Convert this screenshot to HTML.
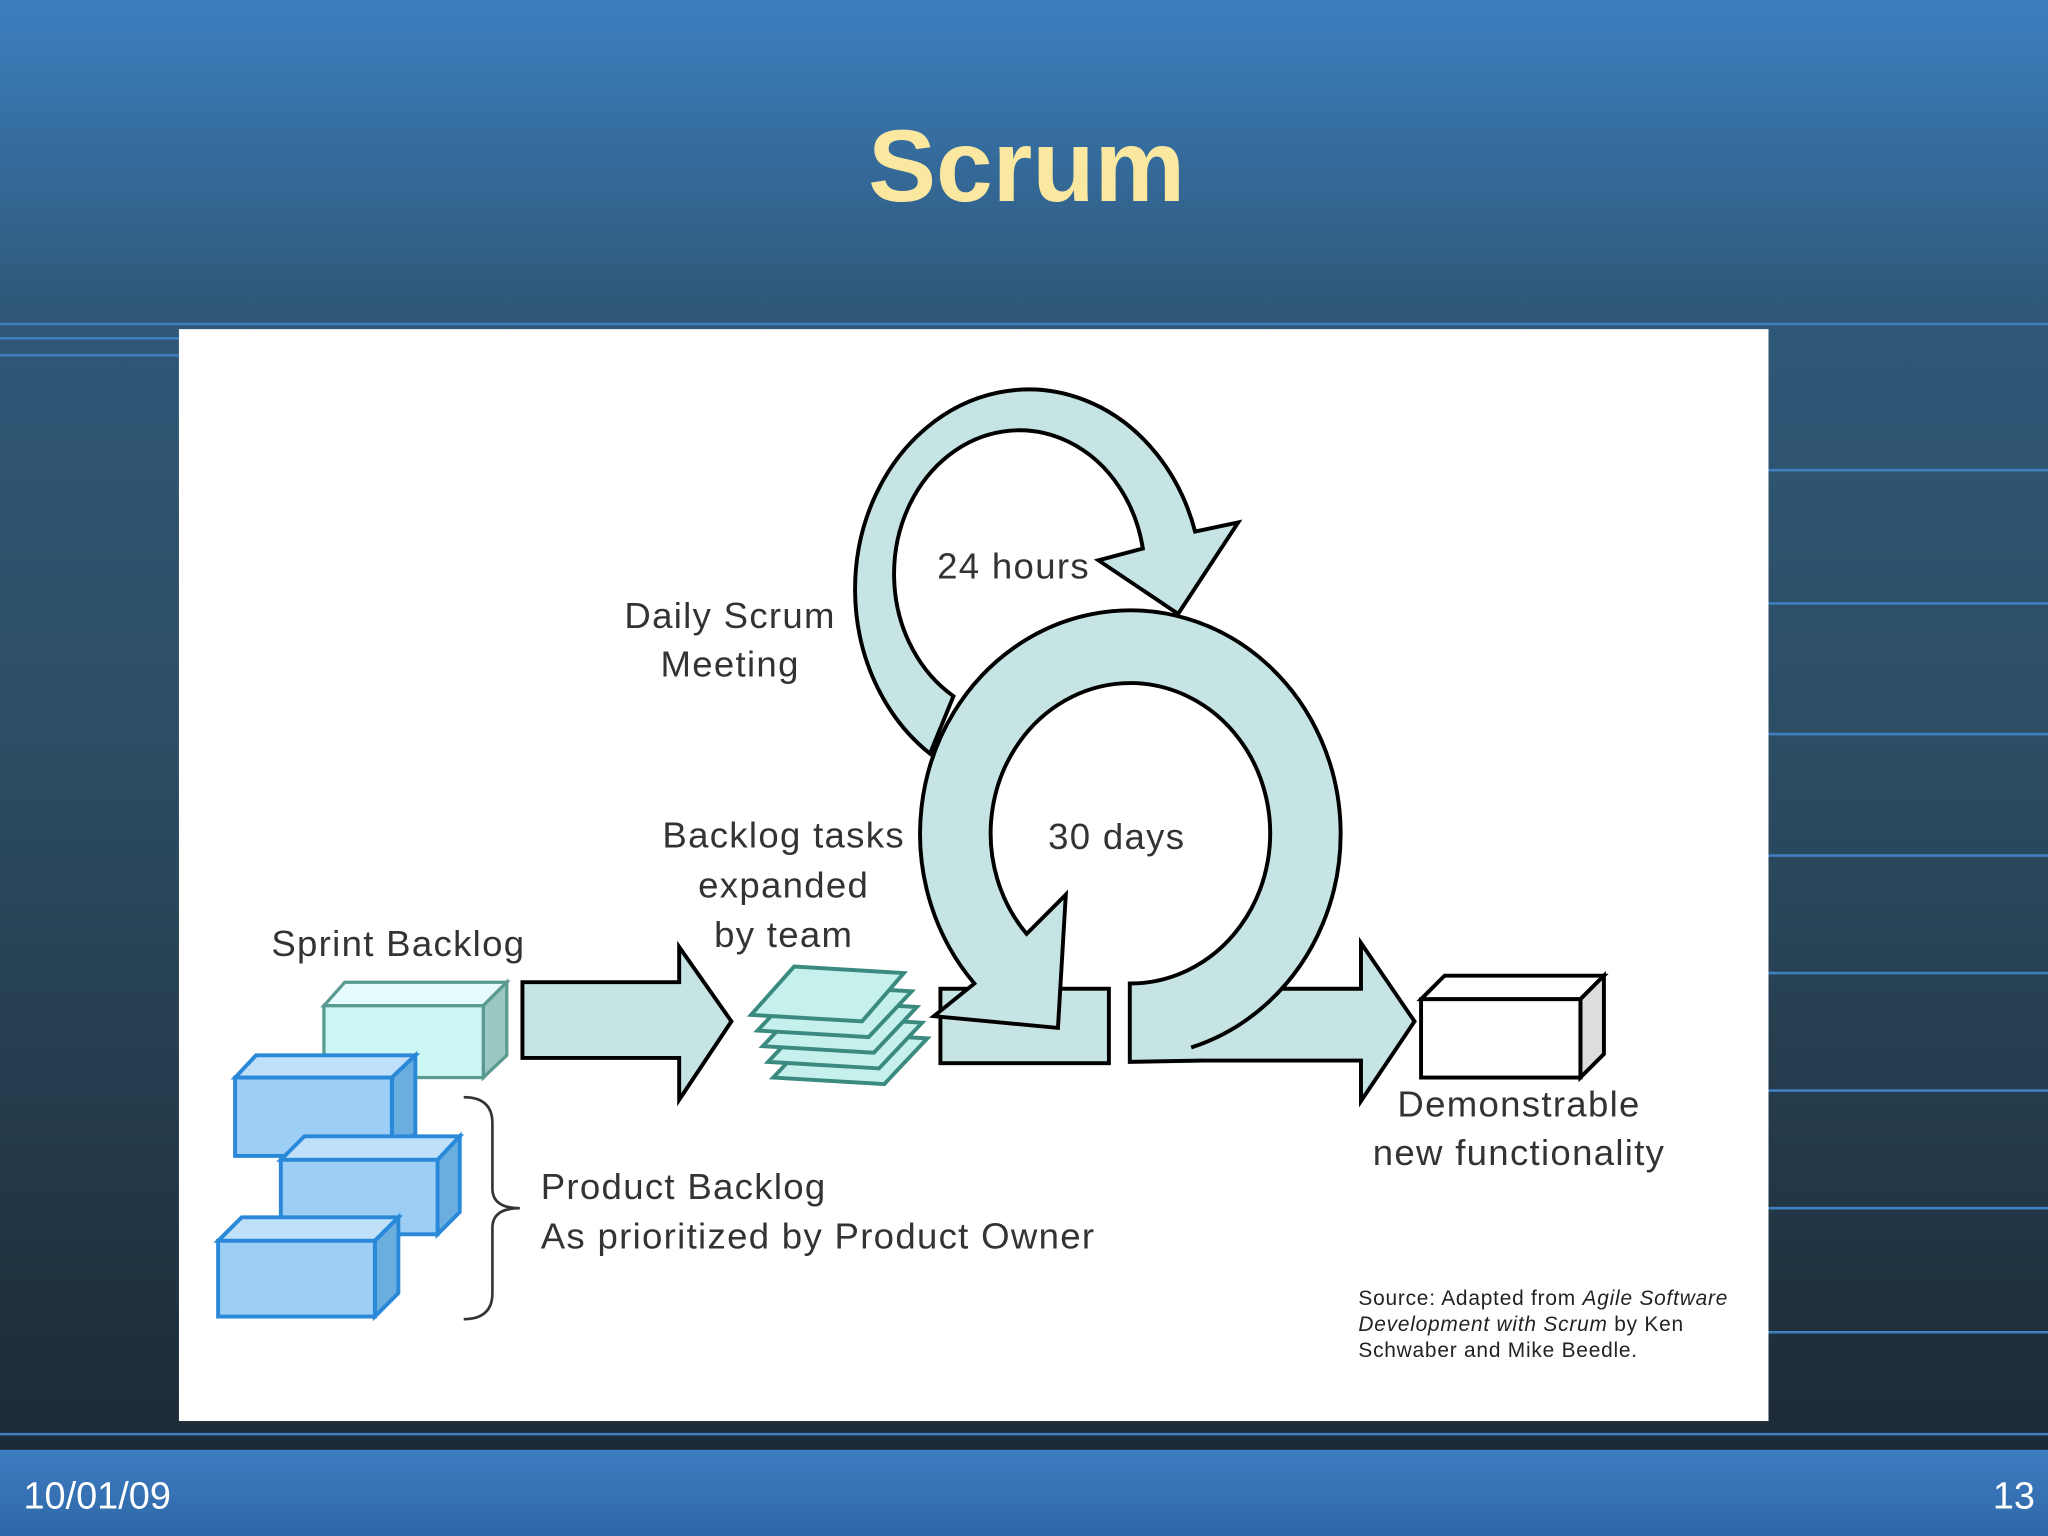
<!DOCTYPE html>
<html><head><meta charset="utf-8"><style>
html,body{margin:0;padding:0;width:2048px;height:1536px;overflow:hidden}
svg{display:block}
text{font-family:"Liberation Sans",sans-serif}
</style></head><body>
<svg width="2048" height="1536" viewBox="0 0 1568 1176" xmlns="http://www.w3.org/2000/svg">
<defs>
<linearGradient id="bg" x1="0" y1="0" x2="0" y2="1">
<stop offset="0" stop-color="#3b7fc0"/>
<stop offset="0.2" stop-color="#2f5878"/>
<stop offset="0.5" stop-color="#2c4c62"/>
<stop offset="1" stop-color="#1a2630"/>
</linearGradient>
<linearGradient id="bar" x1="0" y1="0" x2="0" y2="1">
<stop offset="0" stop-color="#3d7cc0"/><stop offset="1" stop-color="#2f68a8"/>
</linearGradient>
</defs>
<rect width="1568" height="1176" fill="url(#bg)"/>
<g stroke="#3f7fc0" stroke-width="2">
<line x1="0" y1="248" x2="1568" y2="248"/>
<line x1="0" y1="259" x2="137" y2="259"/>
<line x1="0" y1="272" x2="137" y2="272"/>
<line x1="1354" y1="360" x2="1568" y2="360"/>
<line x1="1354" y1="462" x2="1568" y2="462"/>
<line x1="1354" y1="562" x2="1568" y2="562"/>
<line x1="1354" y1="655" x2="1568" y2="655"/>
<line x1="1354" y1="745" x2="1568" y2="745"/>
<line x1="1354" y1="835" x2="1568" y2="835"/>
<line x1="1354" y1="925" x2="1568" y2="925"/>
<line x1="1354" y1="1020" x2="1568" y2="1020"/>
<line x1="0" y1="1098" x2="1568" y2="1098"/>
</g>
<text x="786" y="154" text-anchor="middle" font-size="78" font-weight="bold" fill="#fbe8a0">Scrum</text>
<rect x="137" y="252" width="1217" height="836" fill="#fff"/>
<rect x="0" y="1110" width="1568" height="66" fill="url(#bar)"/>
<text x="18" y="1155" font-size="29" fill="#fff">10/01/09</text>
<text x="1558" y="1155" font-size="29" fill="#fff" text-anchor="end">13</text>

<!-- small loop -->
<path d="M712,577 A133,153 0 1 1 915,407 L948,400 L902,470 L841,429 L875,420 A96,110 0 1 0 730,533 Z" fill="#c6e4e4" stroke="#000" stroke-width="3"/>
<!-- right arrow -->
<polygon points="900,757 1042,757 1042,722 1083,782 1042,843 1042,812 900,812" fill="#c6e4e4" stroke="#000" stroke-width="3"/>
<!-- left rect -->
<rect x="720" y="757" width="129" height="57" fill="#c6e4e4" stroke="#000" stroke-width="3"/>
<!-- big loop fill -->
<path d="M746,753 A161,171 0 1 1 918,800 L918,814 L865,814 L865,753 A107,115 0 1 0 786,715 L816,685 L810,787 L715,778 Z" fill="#c6e4e4"/>
<!-- big loop stroke -->
<path d="M920,812 L865,813 L865,753 A107,115 0 1 0 786,715 L816,685 L810,787 L715,778 L746,753 A161,171 0 1 1 912,802" fill="none" stroke="#000" stroke-width="3" stroke-linejoin="miter"/>

<polygon points="400,752 520,752 520,725 560,782 520,842 520,810 400,810" fill="#c6e4e4" stroke="#000" stroke-width="3"/>
<!-- task stack -->
<g fill="#c6f0ec" stroke="#3a8a80" stroke-width="3">
<polygon points="592,825 677,830 710,795 625,790"/>
<polygon points="588,813 673,818 706,783 621,778"/>
<polygon points="584,801 669,806 702,771 617,766"/>
<polygon points="580,789 665,794 698,759 613,754"/>
<polygon points="575,777 660,782 692,745 608,740"/>
</g>
<!-- sprint backlog box -->
<g stroke="#5a9a90" stroke-width="2.5">
<polygon points="248,770 264,752 388,752 370,770" fill="#e6fbfb"/>
<polygon points="370,770 388,752 388,808 370,825" fill="#9cc8c4"/>
<rect x="248" y="770" width="122" height="55" fill="#ccf7f4"/>
</g>
<!-- product backlog -->
<g stroke="#2a88d8" stroke-width="3">
<polygon points="180,825 196,808 318,808 300,825" fill="#c0e0fa"/>
<polygon points="300,825 318,808 318,868 300,885" fill="#6aaee0"/>
<rect x="180" y="825" width="120" height="60" fill="#9dcef6"/>
<polygon points="215,888 233,870 352,870 335,888" fill="#c0e0fa"/>
<polygon points="335,888 352,870 352,928 335,945" fill="#6aaee0"/>
<rect x="215" y="888" width="120" height="57" fill="#9dcef6"/>
<polygon points="167,950 185,932 305,932 287,950" fill="#c0e0fa"/>
<polygon points="287,950 305,932 305,990 287,1008" fill="#6aaee0"/>
<rect x="167" y="950" width="120" height="58" fill="#9dcef6"/>
</g>
<path d="M355,840 Q377,840 377,860 L377,910 Q377,925 398,925 Q377,925 377,940 L377,990 Q377,1010 355,1010" fill="none" stroke="#333" stroke-width="2"/>
<!-- demonstrable box -->
<g stroke="#000" stroke-width="3">
<polygon points="1088,765 1106,747 1228,747 1210,765" fill="#fff"/>
<polygon points="1210,765 1228,747 1228,807 1210,825" fill="#ddd"/>
<rect x="1088" y="765" width="122" height="60" fill="#fff"/>
</g>
<g font-size="28" fill="#333" letter-spacing="1">
<text x="776" y="443" text-anchor="middle">24 hours</text>
<text x="559" y="481" text-anchor="middle">Daily Scrum</text>
<text x="559" y="518" text-anchor="middle">Meeting</text>
<text x="855" y="650" text-anchor="middle">30 days</text>
<text x="600" y="649" text-anchor="middle">Backlog tasks</text>
<text x="600" y="687" text-anchor="middle">expanded</text>
<text x="600" y="725" text-anchor="middle">by team</text>
<text x="305" y="732" text-anchor="middle">Sprint Backlog</text>
<text x="414" y="918">Product Backlog</text>
<text x="414" y="956">As prioritized by Product Owner</text>
<text x="1163" y="855" text-anchor="middle">Demonstrable</text>
<text x="1163" y="892" text-anchor="middle">new functionality</text>
</g>
<g font-size="16" fill="#222" letter-spacing="0.6">
<text x="1040" y="999">Source: Adapted from <tspan font-style="italic">Agile Software</tspan></text>
<text x="1040" y="1019"><tspan font-style="italic">Development with Scrum</tspan> by Ken</text>
<text x="1040" y="1039">Schwaber and Mike Beedle.</text>
</g>
</svg>
</body></html>
